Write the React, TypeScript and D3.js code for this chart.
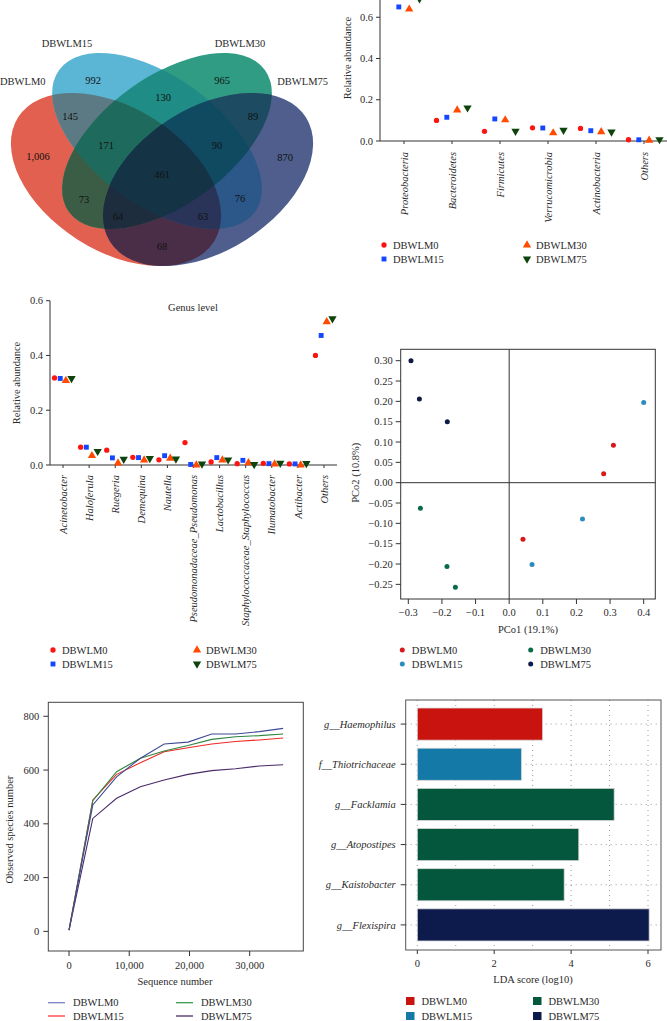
import React from 'react';
import * as d3 from 'd3';

const FONT = '"Liberation Serif", "Times New Roman", serif';
const TXT = '#2a2a2a';
const AX = '#333';

const groups = ['DBWLM0', 'DBWLM15', 'DBWLM30', 'DBWLM75'];

// ---------- Venn ----------
const vennRegions = ['0', '1', '2', '3', '01', '12', '23', '03', '02', '13', '012', '123', '023', '013', '0123'];
const vennCounts = [1006, 992, 965, 870, 145, 130, 89, 68, 73, 76, 171, 90, 64, 63, 461];
const vennRegionColors = ['#e2604f', '#5bb5d5', '#2f9c83', '#4f5e8d', '#5c7a83', '#1f8c86', '#1c4b62', '#4a2e47', '#3b5d45', '#2b5888', '#1e6b5e', '#0f4a61', '#1e2d3e', '#2a3459', '#143446'];
const vennLabelPos: [number, number][] = [[38, 156], [93, 80], [222, 80], [285, 157], [70, 116], [163, 97], [253, 116], [162, 246], [84, 199], [240, 198], [106, 145], [217, 145], [118, 216], [203, 216], [162, 174]];
const vennEllipses = [
  { cx: 116, cy: 179.5, rx: 116, ry: 71.3, rot: 32.45 },
  { cx: 157, cy: 141, rx: 121, ry: 64, rot: 36 },
  { cx: 167, cy: 141, rx: 121, ry: 64, rot: -36 },
  { cx: 208, cy: 179.5, rx: 116, ry: 71.3, rot: -32.45 },
];
const vennSetLabelPos: [number, number, string][] = [[0, 85, 'start'], [67, 47, 'middle'], [240, 47, 'middle'], [328, 85, 'end']];

// ---------- Phylum ----------
const phyla = ['Proteobacteria', 'Bacteroidetes', 'Firmicutes', 'Verrucomicrobia', 'Actinobacteria', 'Others'];
const phylumDBWLM0 = [0.73, 0.100, 0.047, 0.064, 0.061, 0.006];
const phylumDBWLM15 = [0.65, 0.115, 0.107, 0.063, 0.050, 0.006];
const phylumDBWLM30 = [0.639, 0.150, 0.102, 0.039, 0.044, 0.003];
const phylumDBWLM75 = [0.69, 0.161, 0.048, 0.052, 0.044, 0.007];
const phylumTicks = [0, 0.2, 0.4, 0.6];

// ---------- Genus ----------
const genera = ['Acinetobacter', 'Haloferula', 'Ruegeria', 'Demequina', 'Nautella', 'Pseudomonadaceae_Pseudomonas', 'Lactobacillus', 'Staphylococcaceae_Staphylococcus', 'Ilumatobacter', 'Actibacter', 'Others'];
const genusDBWLM0 = [0.318, 0.065, 0.054, 0.028, 0.019, 0.082, 0.011, 0.005, 0.006, 0.004, 0.400];
const genusDBWLM15 = [0.316, 0.065, 0.026, 0.027, 0.034, 0.002, 0.027, 0.017, 0.005, 0.004, 0.473];
const genusDBWLM30 = [0.308, 0.034, 0.007, 0.018, 0.024, 0.0, 0.018, 0.008, 0.003, 0.0, 0.523];
const genusDBWLM75 = [0.316, 0.050, 0.021, 0.024, 0.022, 0.004, 0.019, 0.002, 0.007, 0.006, 0.534];
const genusTicks = [0, 0.2, 0.4, 0.6];

const scatterColors = ['#ff1414', '#1446ff', '#ff4a00', '#0c440c'];
const scatterSymbols = [d3.symbolCircle, d3.symbolSquare, d3.symbolTriangle, d3.symbolTriangle];
const scatterSizes = [22, 24, 30, 30];
const scatterRot = [0, 0, 0, 180];

// ---------- PCoA ----------
const pcoaDBWLM0: [number, number][] = [[0.310, 0.092], [0.281, 0.022], [0.041, -0.139]];
const pcoaDBWLM15: [number, number][] = [[0.400, 0.197], [0.218, -0.089], [0.068, -0.201]];
const pcoaDBWLM30: [number, number][] = [[-0.264, -0.063], [-0.185, -0.206], [-0.160, -0.257]];
const pcoaDBWLM75: [number, number][] = [[-0.292, 0.300], [-0.267, 0.206], [-0.184, 0.150]];
const pcoaXTicks = [-0.3, -0.2, -0.1, 0.0, 0.1, 0.2, 0.3, 0.4];
const pcoaYTicks = [-0.25, -0.2, -0.15, -0.1, -0.05, 0, 0.05, 0.1, 0.15, 0.2, 0.25, 0.3];
const pcoaColors = ['#d7191c', '#2b8cbe', '#0b6a48', '#0e1a48'];

// ---------- Rarefaction ----------
const seqDepth = [0, 3950, 7900, 11850, 15800, 19750, 23700, 27650, 31600, 35550];
const rareDBWLM0 = [5, 470, 575, 644, 697, 704, 734, 734, 743, 755];
const rareDBWLM15 = [5, 489, 584, 627, 668, 683, 697, 706, 712, 719];
const rareDBWLM30 = [5, 486, 594, 644, 671, 691, 714, 724, 728, 734];
const rareDBWLM75 = [5, 420, 495, 538, 563, 584, 598, 605, 615, 620];
const rareXTicks = [0, 10000, 20000, 30000];
const rareYTicks = [0, 200, 400, 600, 800];
const rareColors = ['#3e4a94', '#ee2a24', '#2f8540', '#4a2a68'];
const rareLegendColors = ['#7b80c4', '#ff3a3a', '#3a9a4a', '#4a2a68'];

// ---------- LDA ----------
const ldaTaxa = ['g__Haemophilus', 'f__Thiotrichaceae', 'g__Facklamia', 'g__Atopostipes', 'g__Kaistobacter', 'g__Flexispira'];
const ldaScores = [3.26, 2.71, 5.12, 4.20, 3.82, 6.03];
const ldaGroup = ['DBWLM0', 'DBWLM15', 'DBWLM30', 'DBWLM30', 'DBWLM30', 'DBWLM75'];
const ldaColors = ['#c8130e', '#1579a8', '#04573c', '#0d1a4c'];
const ldaXTicks = [0, 2, 4, 6];

const fmtComma = d3.format(',');

function Venn() {
  const regs = vennRegions.map((k, i) => ({ k, i })).sort((a, b) => a.k.length - b.k.length);
  return (
    <g>
      <defs>
        {vennEllipses.map((e, i) => (
          <clipPath id={`vc${i}`} key={i}>
            <ellipse cx={e.cx} cy={e.cy} rx={e.rx} ry={e.ry} transform={`rotate(${e.rot},${e.cx},${e.cy})`} />
          </clipPath>
        ))}
      </defs>
      {regs.map(({ k, i }) => {
        const idx = k.split('').map(Number);
        const last = vennEllipses[idx[idx.length - 1]];
        let node: React.ReactNode = (
          <ellipse cx={last.cx} cy={last.cy} rx={last.rx} ry={last.ry} transform={`rotate(${last.rot},${last.cx},${last.cy})`} fill={vennRegionColors[i]} />
        );
        for (let j = idx.length - 2; j >= 0; j--) {
          node = <g clipPath={`url(#vc${idx[j]})`}>{node}</g>;
        }
        return <g key={k}>{node}</g>;
      })}
      {vennCounts.map((c, i) => (
        <text key={i} x={vennLabelPos[i][0]} y={vennLabelPos[i][1] + 3.6} textAnchor="middle" fontSize={10.5} fill="#111">{fmtComma(c)}</text>
      ))}
      {groups.map((g, i) => (
        <text key={g} x={vennSetLabelPos[i][0]} y={vennSetLabelPos[i][1]} textAnchor={vennSetLabelPos[i][2] as any} fontSize={10.5} fill={TXT}>{g}</text>
      ))}
    </g>
  );
}

function Marker({ k, x, y }: { k: number; x: number; y: number }) {
  const p = d3.symbol().type(scatterSymbols[k]).size(scatterSizes[k])() as string;
  return <path d={p} transform={`translate(${x},${y}) rotate(${scatterRot[k]})`} fill={scatterColors[k]} />;
}

function ScatterLegend({ x1, x2, y1, y2 }: { x1: number; x2: number; y1: number; y2: number }) {
  const pos = [[x1, y1], [x1, y2], [x2, y1], [x2, y2]];
  return (
    <g>
      {groups.map((g, i) => (
        <g key={g}>
          <Marker k={i} x={pos[i][0]} y={pos[i][1]} />
          <text x={pos[i][0] + 9} y={pos[i][1] + 3.6} fontSize={10.5} fill={TXT}>{g}</text>
        </g>
      ))}
    </g>
  );
}

function CategoryScatter({ cats, series, x0, x1, yBase, yTop, vTop, ticks, offsets, labelTop, yTitleX, yTitleY, title }: any) {
  const x = d3.scaleBand().domain(cats).range([x0, x1]);
  const y = d3.scaleLinear().domain([0, vTop]).range([yBase, yTop]);
  return (
    <g>
      <line x1={x0} x2={x0} y1={yBase} y2={y(vTop)} stroke={AX} />
      <line x1={x0} x2={x1} y1={yBase} y2={yBase} stroke={AX} />
      {ticks.map((t: number) => (
        <g key={t}>
          <line x1={x0 - 4} x2={x0} y1={y(t)} y2={y(t)} stroke={AX} />
          <text x={x0 - 7} y={y(t) + 3.6} textAnchor="end" fontSize={10.5} fill={TXT}>{t.toFixed(1)}</text>
        </g>
      ))}
      {cats.map((c: string) => {
        const cx = (x(c) as number) + x.bandwidth() / 2;
        return (
          <g key={c}>
            <line x1={cx} x2={cx} y1={yBase} y2={yBase + 3} stroke={AX} />
            <text transform={`translate(${cx},${labelTop}) rotate(-90)`} dy="0.35em" textAnchor="end" fontSize={10.5} fontStyle="italic" fill={TXT}>{c}</text>
          </g>
        );
      })}
      {series.map((s: number[], k: number) =>
        s.map((v: number, i: number) => (
          <Marker key={`${k}-${i}`} k={k} x={(x(cats[i]) as number) + x.bandwidth() / 2 + offsets[k]} y={y(v)} />
        ))
      )}
      <text transform={`translate(${yTitleX},${yTitleY}) rotate(-90)`} textAnchor="middle" fontSize={10.5} fill={TXT}>Relative abundance</text>
      {title}
    </g>
  );
}

function PCoA() {
  const x = d3.scaleLinear().domain([-0.3226, 0.4345]).range([400.7, 655.3]);
  const y = d3.scaleLinear().domain([-0.286, 0.328]).range([599, 349.3]);
  const series = [pcoaDBWLM0, pcoaDBWLM15, pcoaDBWLM30, pcoaDBWLM75];
  const [xa, xb] = x.range();
  const [ya, yb] = y.range();
  return (
    <g>
      <rect x={xa} y={yb} width={xb - xa} height={ya - yb} fill="none" stroke={AX} />
      <line x1={x(0)} x2={x(0)} y1={yb} y2={ya} stroke={AX} />
      <line x1={xa} x2={xb} y1={y(0)} y2={y(0)} stroke={AX} />
      {pcoaYTicks.map((t) => (
        <g key={t}>
          <line x1={xa - 5} x2={xa} y1={y(t)} y2={y(t)} stroke={AX} />
          <text x={xa - 8} y={y(t) + 3.6} textAnchor="end" fontSize={10.5} fill={TXT}>{t < 0 ? '\u2212' + Math.abs(t).toFixed(2) : t.toFixed(2)}</text>
        </g>
      ))}
      {pcoaXTicks.map((t) => (
        <g key={t}>
          <line x1={x(t)} x2={x(t)} y1={ya} y2={ya + 5} stroke={AX} />
          <text x={x(t)} y={ya + 17} textAnchor="middle" fontSize={10.5} fill={TXT}>{t < 0 ? '\u2212' + Math.abs(t).toFixed(1) : t.toFixed(1)}</text>
        </g>
      ))}
      <text x={(xa + xb) / 2} y={633} textAnchor="middle" fontSize={10.5} fill={TXT}>PCo1 (19.1%)</text>
      <text transform={`translate(359,${y(0) - 10}) rotate(-90)`} textAnchor="middle" fontSize={10.5} fill={TXT}>PCo2 (10.8%)</text>
      {series.map((s, k) => s.map((p, i) => <circle key={`${k}-${i}`} cx={x(p[0])} cy={y(p[1])} r={2.5} fill={pcoaColors[k]} />))}
      {groups.map((g, i) => {
        const lx = i < 2 ? 402.3 : 530.7;
        const ly = i % 2 === 0 ? 650 : 664;
        return (
          <g key={g}>
            <circle cx={lx} cy={ly} r={2.5} fill={pcoaColors[i]} />
            <text x={lx + 9.5} y={ly + 3.6} fontSize={10.5} fill={TXT}>{g}</text>
          </g>
        );
      })}
    </g>
  );
}

function Rarefaction() {
  const x = d3.scaleLinear().domain([-3440, 38900]).range([48.3, 303.3]);
  const y = d3.scaleLinear().domain([-73, 852]).range([951, 702.3]);
  const series = [rareDBWLM0, rareDBWLM15, rareDBWLM30, rareDBWLM75];
  const line = d3.line<number>().x((_, i) => x(seqDepth[i])).y((d) => y(d));
  const [xa, xb] = x.range();
  const [ya, yb] = y.range();
  const order = [3, 1, 2, 0];
  return (
    <g>
      <rect x={xa} y={yb} width={xb - xa} height={ya - yb} fill="none" stroke="#444" />
      {rareYTicks.map((t) => (
        <g key={t}>
          <line x1={xa - 5} x2={xa} y1={y(t)} y2={y(t)} stroke={AX} />
          <text x={xa - 9} y={y(t) + 3.6} textAnchor="end" fontSize={10.5} fill={TXT}>{t}</text>
        </g>
      ))}
      {rareXTicks.map((t) => (
        <g key={t}>
          <line x1={x(t)} x2={x(t)} y1={ya} y2={ya + 5} stroke={AX} />
          <text x={x(t)} y={ya + 18} textAnchor="middle" fontSize={10.5} fill={TXT}>{fmtComma(t)}</text>
        </g>
      ))}
      <text x={175} y={985} textAnchor="middle" fontSize={10.5} fill={TXT}>Sequence number</text>
      <text transform={`translate(13,${(ya + yb) / 2 + 3}) rotate(-90)`} textAnchor="middle" fontSize={10.5} fill={TXT}>Observed species number</text>
      {order.map((k) => (
        <path key={k} d={line(series[k]) as string} fill="none" stroke={rareColors[k]} strokeWidth={1.1} />
      ))}
      {groups.map((g, i) => {
        const lx = i < 2 ? 48 : 176;
        const ly = i % 2 === 0 ? 1002.7 : 1016;
        return (
          <g key={g}>
            <line x1={lx} x2={lx + 17} y1={ly} y2={ly} stroke={rareLegendColors[i]} strokeWidth={1.3} />
            <text x={lx + 25} y={ly + 3.6} fontSize={10.5} fill={TXT}>{g}</text>
          </g>
        );
      })}
    </g>
  );
}

function LDA() {
  const x = d3.scaleLinear().domain([-0.3017, 6.338]).range([405.7, 661]);
  const y = d3.scaleBand().domain(ldaTaxa).range([704, 945]).paddingInner(0.2).paddingOuter(0.1);
  const [xa, xb] = x.range();
  const top = 700, bot = 950;
  return (
    <g>
      {d3.range(0, 7).map((t) => (
        <line key={`v${t}`} x1={x(t)} x2={x(t)} y1={top} y2={bot} stroke="#9a9a9a" strokeDasharray="1,4" />
      ))}
      {ldaTaxa.map((t) => (
        <line key={`h${t}`} x1={xa} x2={xb} y1={(y(t) as number) + y.bandwidth() / 2} y2={(y(t) as number) + y.bandwidth() / 2} stroke="#9a9a9a" strokeDasharray="1,4" />
      ))}
      {ldaTaxa.map((t, i) => (
        <rect key={t} x={x(0)} y={y(t)} width={x(ldaScores[i]) - x(0)} height={y.bandwidth()} fill={ldaColors[groups.indexOf(ldaGroup[i])]} stroke="#d8d8d8" strokeWidth={0.8} />
      ))}
      <rect x={xa} y={top} width={xb - xa} height={bot - top} fill="none" stroke="#555" />
      {ldaTaxa.map((t) => {
        const cy = (y(t) as number) + y.bandwidth() / 2;
        return (
          <g key={t}>
            <line x1={xa - 5} x2={xa} y1={cy} y2={cy} stroke={AX} />
            <text x={xa - 10} y={cy + 3.6} textAnchor="end" fontSize={10.5} fontStyle="italic" fill={TXT}>{t}</text>
          </g>
        );
      })}
      {ldaXTicks.map((t) => (
        <g key={t}>
          <line x1={x(t)} x2={x(t)} y1={bot} y2={bot + 4} stroke={AX} />
          <text x={x(t)} y={bot + 17} textAnchor="middle" fontSize={10.5} fill={TXT}>{t}</text>
        </g>
      ))}
      <text x={533} y={983} textAnchor="middle" fontSize={10.5} fill={TXT}>LDA score  (log10)</text>
      {groups.map((g, i) => {
        const lx = i < 2 ? 406 : 533;
        const ly = i % 2 === 0 ? 1001 : 1016;
        return (
          <g key={g}>
            <rect x={lx} y={ly - 4} width={8.5} height={8} fill={ldaColors[i]} />
            <text x={lx + 15.5} y={ly + 3.6} fontSize={10.5} fill={TXT}>{g}</text>
          </g>
        );
      })}
    </g>
  );
}

export default function App() {
  return (
    <svg width={667} height={1021} style={{ position: 'absolute', left: 0, top: 0, background: '#fff' }} fontFamily={FONT}>
      <rect width={667} height={1021} fill="#fff" />
      <Venn />
      <CategoryScatter
        cats={phyla}
        series={[phylumDBWLM0, phylumDBWLM15, phylumDBWLM30, phylumDBWLM75]}
        x0={380} x1={668} yBase={141} yTop={-24} vTop={0.8}
        ticks={phylumTicks}
        offsets={[-15.5, -5.2, 5.2, 15.5]}
        labelTop={152}
        yTitleX={351}
        yTitleY={58}
        title={null}
      />
      <ScatterLegend x1={384} x2={527} y1={245} y2={259} />
      <CategoryScatter
        cats={genera}
        series={[genusDBWLM0, genusDBWLM15, genusDBWLM30, genusDBWLM75]}
        x0={50} x1={337} yBase={465} yTop={300.7} vTop={0.6}
        ticks={genusTicks}
        offsets={[-8.5, -2.8, 2.8, 8.5]}
        labelTop={475}
        yTitleX={20}
        yTitleY={383}
        title={<text x={193} y={310.5} textAnchor="middle" fontSize={10.5} fill={TXT}>Genus level</text>}
      />
      <ScatterLegend x1={53} x2={197} y1={650} y2={664} />
      <PCoA />
      <Rarefaction />
      <LDA />
    </svg>
  );
}
